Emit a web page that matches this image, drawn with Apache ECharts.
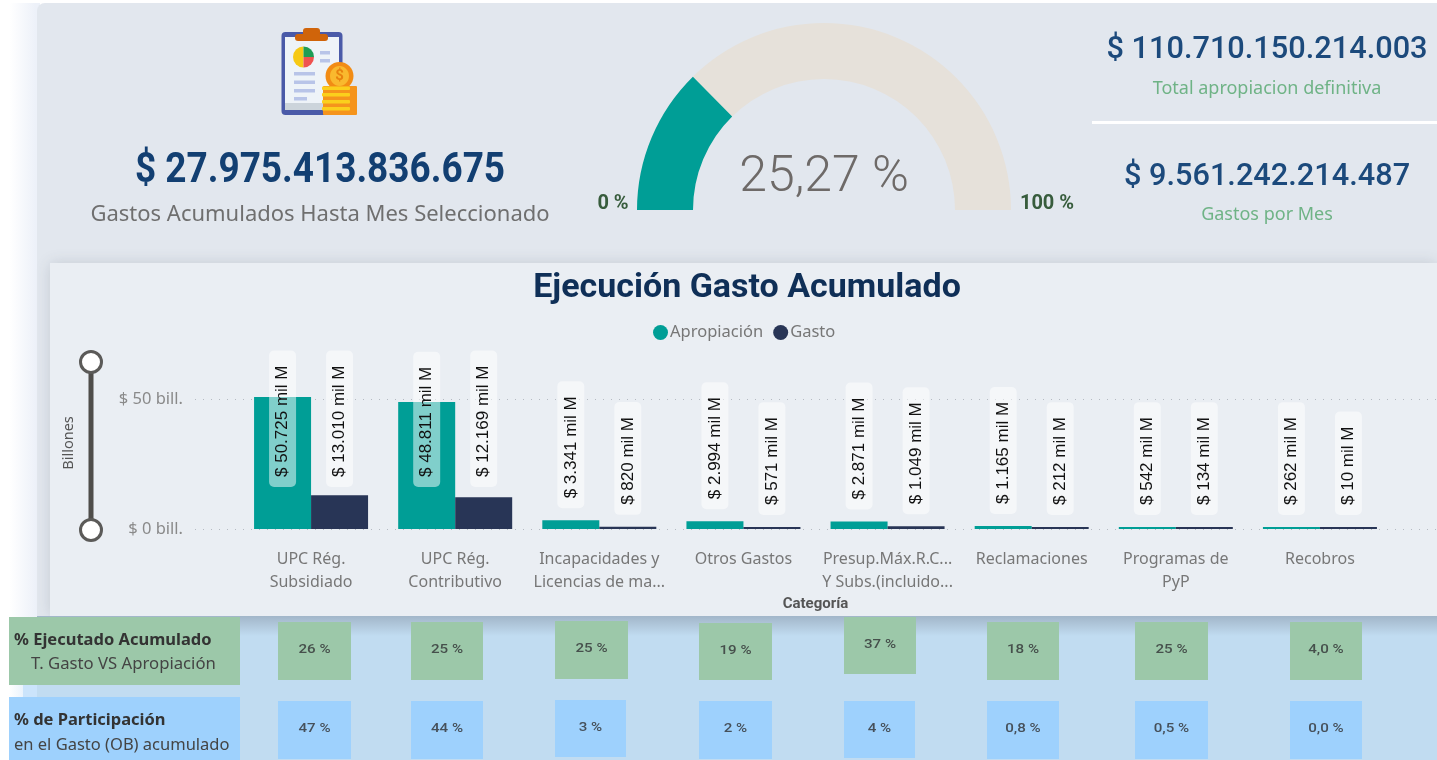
<!DOCTYPE html>
<html><head><meta charset="utf-8">
<script src="https://cdn.jsdelivr.net/npm/echarts@6/dist/echarts.min.js"></script>
<style>html,body{margin:0;padding:0;background:#fff}#c{width:1437px;height:760px}</style>
</head><body><div id="c"></div>
<script>
// ---- data ----
const categorias = ['UPC Rég.\nSubsidiado','UPC Rég.\nContributivo','Incapacidades y\nLicencias de ma...','Otros Gastos','Presup.Máx.R.C...\nY Subs.(incluido...','Reclamaciones','Programas de\nPyP','Recobros'];
const apropiacion = [50725,48811,3341,2994,2871,1165,542,262];
const gasto = [13010,12169,820,571,1049,212,134,10];
const ejecutado = ['26 %','25 %','25 %','19 %','37 %','18 %','25 %','4,0 %'];
const participacion = ['47 %','44 %','3 %','2 %','4 %','0,8 %','0,5 %','0,0 %'];
const avancePct = 25.27;
const gastosAcumulados = '$ 27.975.413.836.675';
const totalApropiacion = '$ 110.710.150.214.003';
const gastosMes = '$ 9.561.242.214.487';

// ---- layout (not data) ----
const TEAL='#009e96', NAVY='#283556', DIN='Roboto, sans-serif', SEGOE='"Noto Sans", sans-serif';
const PX_PER_UNIT = 130/50000;
const greenCells=[[278,622,73,58],[411,622,72,58],[555,621,73,58],[699,623,73,57],[844,617,72,57],[987,622,72,58],[1135,622,73,58],[1290,622,72,58]];
const blueCells=[[278,701,73,58],[411,701,72,58],[555,700,71,57],[699,701,73,58],[844,701,71,57],[987,701,72,58],[1135,701,73,58],[1290,701,72,58]];

function T(x,y,text,o){return {type:'text',x,y,scaleX:o.sx||1,z:o.z||20,silent:true,style:{text,x:0,y:0,align:o.align||'center',verticalAlign:'middle',fill:o.color,font:(o.weight||'normal')+' '+o.size+'px '+(o.family||SEGOE)}};}
function R(x,y,w,h,fill,z,r,extra){return {type:'rect',z:z||5,silent:true,shape:{x,y,width:w,height:h,r:r||0},style:Object.assign({fill},extra||{})};}
function C(cx,cy,r,fill,z,extra){return {type:'circle',z:z||12,silent:true,shape:{cx,cy,r},style:Object.assign({fill},extra||{})};}
function S(cx,cy,r,a0,a1,fill){return {type:'sector',z:13,silent:true,shape:{cx,cy,r,r0:0,startAngle:a0*Math.PI/180,endAngle:a1*Math.PI/180},style:{fill}};}

const g=[];
// page panels
g.push({type:'rect',z:1,silent:true,shape:{x:10,y:3,width:30,height:614},style:{fill:{type:'linear',x:0,y:0,x2:1,y2:0,colorStops:[{offset:0,color:'#ffffff'},{offset:.85,color:'#edf1f9'},{offset:1,color:'#edf1f9'}]}}});
g.push(R(37,3,1400,614,'#e2e7ee',2,[8,0,0,0]));
g.push(R(50,263,1387,353,'#eaeef3',3,0,{shadowBlur:14,shadowColor:'rgba(60,70,90,0.18)'}));
g.push(R(23,685,14,12,'#cbe4fb',4));
g.push({type:'rect',z:1,silent:true,shape:{x:9,y:685,width:14,height:12},style:{fill:{type:'linear',x:0,y:0,x2:1,y2:0,colorStops:[{offset:0,color:'#ffffff'},{offset:1,color:'#eaf3fc'}]}}});
g.push(R(37,616,1400,144,'#c1dcf1',4));
g.push({type:'rect',z:5,silent:true,shape:{x:37,y:616,width:1400,height:20},style:{fill:{type:'linear',x:0,y:0,x2:0,y2:1,colorStops:[{offset:0,color:'#a2b6c9'},{offset:1,color:'#c1dcf1'}]}}});
g.push(R(1092,121,345,3,'#ffffff',6));

// icon
g.push(R(281.5,32,61,83,'#4a5aa8',10,4));
g.push(R(285,37,54,73,'#eef3f8',11));
g.push(R(285,103,54,7,'#ccd4db',12));
g.push(R(303,28,17,8,'#d0640a',13,3));
g.push(R(295,34,33,7,'#d0640a',13,3));
g.push(S(303.5,57,10.5,90,270,'#f6c915'));
g.push(S(303.5,57,10.5,270,360,'#1f9d55'));
g.push(S(303.5,57,10.5,0,90,'#ef5350'));
[[320,51,10],[320,59,10],[294,72,21],[294,80.5,21],[294,89,21],[294,97,13]].forEach(a=>g.push(R(a[0],a[1],a[2],3.5,'#b8c4e8',13)));
g.push({type:'ellipse',z:14,silent:true,shape:{cx:339.5,cy:76,rx:14,ry:14},style:{fill:'#f28c14'}});
g.push({type:'ellipse',z:15,silent:true,shape:{cx:339.5,cy:76,rx:9.5,ry:10},style:{fill:'#f9b92e'}});
g.push(T(339.5,76,'$',{size:15,weight:'bold',color:'#e8820e',family:DIN,z:16}));
g.push(R(323,86,34,29,'#f5941c',14,1));
[86.5,93,100,107].forEach(y=>g.push(R(322,y,28,3.5,'#fbcf1c',15,1)));

// KPIs
g.push(T(320,171,gastosAcumulados,{size:42,weight:'bold',color:'#123f72',family:DIN,sx:.88}));
g.push(T(320,215,'Gastos Acumulados Hasta Mes Seleccionado',{size:22,color:'#6f6f6f'}));
g.push(T(1267,50,totalApropiacion,{size:32,weight:'500',color:'#1c4a7c',family:DIN,sx:.96}));
g.push(T(1267,89,'Total apropiacion definitiva',{size:18,color:'#6fb386'}));
g.push(T(1267,177,gastosMes,{size:32,weight:'500',color:'#1c4a7c',family:DIN,sx:.96}));
g.push(T(1267,215,'Gastos por Mes',{size:18,color:'#6fb386'}));
g.push(T(613,204,'0 %',{size:20,weight:'bold',color:'#375c3c',family:DIN}));
g.push(T(1047,204,'100 %',{size:20,weight:'bold',color:'#375c3c',family:DIN}));
g.push(T(747,288,'Ejecución Gasto Acumulado',{size:34,weight:'bold',color:'#0f2f57',family:DIN}));

// slider
g.push(R(88.5,361,5,169,'#4f4d4a',10));
g.push(C(91,362,10.5,'#ffffff',12,{stroke:'#5b5a58',lineWidth:3}));
g.push(C(91,530,10.5,'#ffffff',12,{stroke:'#5b5a58',lineWidth:3}));

// table rows
g.push(R(9,617,231,68,'#9cc8a9',7));
g.push(R(9,697,231,63,'#9ed1fd',7));
g.push(T(14,640,'% Ejecutado Acumulado',{size:16.5,weight:'bold',align:'left',color:'#333'}));
g.push(T(31,664,'T. Gasto VS Apropiación',{size:16.7,align:'left',color:'#444'}));
g.push(T(14,720,'% de Participación',{size:16.5,weight:'bold',align:'left',color:'#333'}));
g.push(T(14,745,'en el Gasto (OB) acumulado',{size:16.5,align:'left',color:'#444'}));
ejecutado.forEach((t,i)=>{const c=greenCells[i];g.push(R(c[0],c[1],c[2],c[3],'#9cc8a9',7));g.push(T(c[0]+c[2]/2,c[1]+c[3]/2-1,t,{size:13.5,weight:'500',color:'#46504c',family:DIN,sx:1.12}));});
participacion.forEach((t,i)=>{const c=blueCells[i];g.push(R(c[0],c[1],c[2],c[3],'#9ed1fd',7));g.push(T(c[0]+c[2]/2,c[1]+c[3]/2-1,t,{size:13.5,weight:'500',color:'#46505a',family:DIN,sx:1.12}));});

const fmtMil = v => '$ ' + String(v).replace(/\B(?=(\d{3})+$)/g,'.') + ' mil M';
// pill sits 12px over the bar, but never higher than 42px above the axis for tall bars
function labelled(values){return values.map(v=>{const h=v*PX_PER_UNIT;return {value:v,label:{distance:h+12>42?42-h:12}};});}
function bar(name,values,color){return {name,type:'bar',xAxisIndex:0,yAxisIndex:0,data:labelled(values),barWidth:57,barGap:'0%',barMinHeight:2,clip:false,itemStyle:{color},
  label:{show:true,position:'top',rotate:90,align:'left',verticalAlign:'middle',formatter:p=>fmtMil(p.value),color:'#111',fontSize:17,fontFamily:'"Liberation Sans",sans-serif',backgroundColor:'rgba(255,255,255,0.5)',borderRadius:5,padding:[5,15,5,10]},
  emphasis:{disabled:true},z:9};}

const chart=echarts.init(document.getElementById('c'),null,{renderer:'canvas'});
chart.setOption({
  animation:false,
  backgroundColor:'#ffffff',
  graphic:{elements:g},
  legend:{data:['Apropiación','Gasto'],left:648,top:319,icon:'circle',itemWidth:15,itemHeight:15,itemGap:10,selectedMode:false,textStyle:{color:'#777',fontSize:16.5,fontFamily:SEGOE,padding:[0,0,0,-3]},z:10},
  grid:[{left:239,top:399,width:1153,height:130},{left:195,top:399,width:1242,height:130}],
  xAxis:[
    {type:'category',gridIndex:0,z:8,data:categorias,axisTick:{show:false},axisLine:{show:false},
     axisLabel:{interval:0,margin:19,color:'#777',fontSize:16,lineHeight:23,fontFamily:SEGOE,verticalAlign:'top'},
     name:'Categoría',nameLocation:'middle',nameGap:68,nameTextStyle:{color:'#555',fontSize:15,fontWeight:'bold',fontFamily:DIN}},
    {type:'value',gridIndex:1,show:false,min:0,max:1}
  ],
  yAxis:[
    {type:'value',gridIndex:0,z:8,min:0,max:50000,interval:50000,splitLine:{show:false},axisLine:{show:false},axisTick:{show:false},
     axisLabel:{margin:56,color:'#8a8a8a',fontSize:16.5,fontFamily:SEGOE,formatter:v=>'$ '+(v/1000)+' bill.'},
     name:'Billones',nameLocation:'middle',nameRotate:90,nameGap:163,nameTextStyle:{color:'#555',fontSize:14.5,fontFamily:SEGOE,padding:[0,0,0,42]}},
    {type:'value',gridIndex:1,z:8,min:0,max:50000,interval:50000,axisLabel:{show:false},axisLine:{show:false},axisTick:{show:false},
     splitLine:{show:true,lineStyle:{color:'#b5bac2',type:[1,7],width:1}}}
  ],
  series:[
    bar('Apropiación',apropiacion,TEAL),
    bar('Gasto',gasto,NAVY),
    {type:'gauge',center:[824,210],radius:187,startAngle:180,endAngle:0,min:0,max:100,z:6,
     data:[{value:avancePct}],
     axisLine:{roundCap:false,lineStyle:{width:56,color:[[1,'#e6e1da']]}},
     progress:{show:true,width:56,roundCap:false,itemStyle:{color:TEAL}},
     pointer:{show:false},axisTick:{show:false},splitLine:{show:false},axisLabel:{show:false},title:{show:false},
     detail:{show:true,valueAnimation:false,offsetCenter:[0,-32],formatter:v=>v.toFixed(2).replace('.',',')+' %',color:'#6e6a68',fontSize:50,fontWeight:300,fontFamily:DIN}}
  ]
});
</script></body></html>
